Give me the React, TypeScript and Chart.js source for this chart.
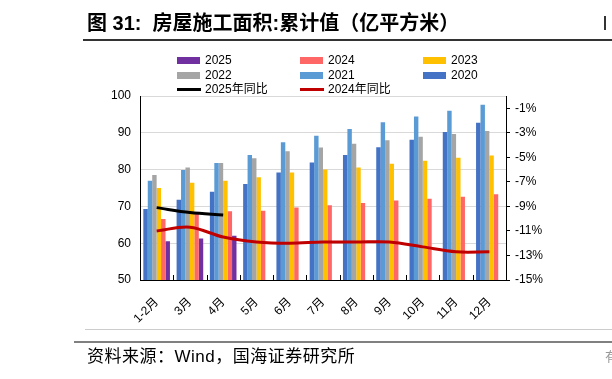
import React, { useEffect, useRef } from 'react';
import { Chart, registerables } from 'chart.js';

Chart.register(...registerables);

const categories = ['1-2月', '3月', '4月', '5月', '6月', '7月', '8月', '9月', '10月', '11月', '12月'];
const s2020 = [69.3, 71.8, 74.0, 76.1, 79.2, 81.9, 84.0, 86.1, 88.1, 90.2, 92.7];
const s2021 = [77.0, 79.9, 81.8, 84.0, 87.4, 89.2, 91.0, 92.9, 94.4, 96.0, 97.6];
const s2022 = [78.5, 80.6, 81.8, 83.1, 85.0, 86.0, 87.0, 88.0, 88.9, 89.7, 90.5];
const s2023 = [75.0, 76.4, 77.0, 77.9, 79.2, 80.0, 80.6, 81.6, 82.4, 83.2, 83.8];
const s2024 = [66.6, 68.1, 68.7, 68.8, 69.7, 70.3, 70.9, 71.6, 72.1, 72.6, 73.3];
const s2025 = [60.5, 61.3, 62.0, null, null, null, null, null, null, null, null];
const yoy2025 = [-9.1, -9.5, -9.7, null, null, null, null, null, null, null, null];
const yoy2024 = [-11.0, -10.7, -11.5, -11.9, -12.0, -11.9, -11.9, -11.9, -12.3, -12.7, -12.7];
const leftTicks = [50, 60, 70, 80, 90, 100];
const rightTicks = [-15, -13, -11, -9, -7, -5, -3, -1];
const legendOrder = ['2025', '2024', '2023', '2022', '2021', '2020', '2025年同比', '2024年同比'];

const FONT = '"Liberation Sans", Arial, "Noto Sans CJK SC", sans-serif';

const xTickPlugin = {
  id: 'xInnerTicks',
  afterDatasetsDraw(chart: any) {
    const xs = chart.scales.x;
    const bottom = chart.chartArea.bottom;
    const ctx = chart.ctx;
    ctx.save();
    ctx.strokeStyle = '#000';
    ctx.lineWidth = 1;
    for (let i = 1; i < categories.length; i++) {
      const x = Math.round((xs.getPixelForTick(i - 1) + xs.getPixelForTick(i)) / 2) + 0.5;
      ctx.beginPath();
      ctx.moveTo(x, bottom);
      ctx.lineTo(x, bottom - 5);
      ctx.stroke();
    }
    ctx.restore();
  },
};

const legendPlugin = {
  id: 'gridLegend',
  afterDraw(chart: any) {
    const ctx = chart.ctx;
    const cols = [177, 300, 423];
    const rows = [60.5, 75.5, 89.5];
    ctx.save();
    ctx.font = '12px ' + FONT;
    ctx.textBaseline = 'middle';
    ctx.textAlign = 'left';
    legendOrder.forEach((label, i) => {
      const ds = chart.data.datasets.find((d: any) => d.label === label);
      if (!ds) return;
      const x = cols[i % 3];
      const y = rows[Math.floor(i / 3)];
      if (ds.type === 'line') {
        ctx.strokeStyle = ds.borderColor;
        ctx.lineWidth = 3;
        ctx.beginPath();
        ctx.moveTo(x, y);
        ctx.lineTo(x + 24, y);
        ctx.stroke();
      } else {
        ctx.fillStyle = ds.backgroundColor;
        ctx.fillRect(x, y - 3.5, 23, 7);
      }
      ctx.fillStyle = '#000';
      ctx.fillText(label, x + 28, y + 0.5);
    });
    ctx.restore();
  },
};

function ChartView() {
  const ref = useRef<HTMLCanvasElement | null>(null);
  useEffect(() => {
    if (!ref.current) return;
    const bar = (label: string, data: (number | null)[], color: string) => ({
      type: 'bar' as const,
      label,
      data,
      backgroundColor: color,
      borderWidth: 0,
      yAxisID: 'y',
      order: 1,
      categoryPercentage: 0.8,
      barPercentage: 1.0,
    });
    const chart = new Chart(ref.current, {
      type: 'bar',
      data: {
        labels: categories,
        datasets: [
          bar('2020', s2020, '#4472C4'),
          bar('2021', s2021, '#5B9BD5'),
          bar('2022', s2022, '#A5A5A5'),
          bar('2023', s2023, '#FFC000'),
          bar('2024', s2024, '#FF6666'),
          bar('2025', s2025, '#7030A0'),
          {
            type: 'line',
            label: '2025年同比',
            data: yoy2025,
            borderColor: '#000000',
            backgroundColor: '#000000',
            borderWidth: 3,
            pointRadius: 0,
            tension: 0.35,
            yAxisID: 'y1',
            order: 0,
          },
          {
            type: 'line',
            label: '2024年同比',
            data: yoy2024,
            borderColor: '#C00000',
            backgroundColor: '#C00000',
            borderWidth: 3,
            pointRadius: 0,
            tension: 0.35,
            yAxisID: 'y1',
            order: 0,
          },
        ] as any,
      },
      options: {
        responsive: false,
        animation: false,
        devicePixelRatio: 1,
        layout: { padding: { left: 90, right: 46, top: 96, bottom: 49 } },
        plugins: { legend: { display: false }, tooltip: { enabled: false }, title: { display: false } },
        scales: {
          x: {
            position: 'bottom',
            afterFit: (s: any) => { s.height = 50; },
            grid: { display: false },
            border: { display: true, color: '#000', width: 1 },
            ticks: {
              minRotation: 45,
              maxRotation: 45,
              padding: 7,
              color: '#000',
              font: { size: 12, family: FONT },
            },
          },
          y: {
            position: 'left',
            min: leftTicks[0],
            max: leftTicks[leftTicks.length - 1],
            afterFit: (s: any) => { s.width = 50; },
            ticks: { stepSize: 10, padding: 9, color: '#000', font: { size: 12, family: FONT } },
            grid: { color: '#D9D9D9', lineWidth: 1, drawTicks: false },
            border: { display: true, color: '#000', width: 1 },
          },
          y1: {
            position: 'right',
            min: -15,
            max: 0,
            afterFit: (s: any) => { s.width = 60; },
            afterBuildTicks: (s: any) => { s.ticks = rightTicks.map((v) => ({ value: v })); },
            ticks: {
              padding: 5,
              color: '#000',
              font: { size: 12, family: FONT },
              callback: (v: any) => v + '%',
            },
            grid: { drawOnChartArea: false, drawTicks: true, tickLength: 4, color: '#000' },
            border: { display: true, color: '#000', width: 1 },
          },
        },
      } as any,
      plugins: [xTickPlugin, legendPlugin],
    });
    return () => chart.destroy();
  }, []);
  return <canvas ref={ref} width={612} height={379} style={{ position: 'absolute', left: 0, top: 0, width: 612, height: 379 }} />;
}

export default function App() {
  return (
    <div style={{ position: 'absolute', left: 0, top: 0, width: 612, height: 379, overflow: 'hidden', background: '#fff' }}>
      <ChartView />
      <div style={{ position: 'absolute', left: 87, top: 11, fontFamily: FONT, fontWeight: 'bold', fontSize: 20, color: '#000', whiteSpace: 'pre', lineHeight: '24px' }}>
        图 31:  房屋施工面积:累计值（亿平方米）
      </div>
      <div style={{ position: 'absolute', left: 83, top: 39, width: 529, height: 2, background: '#333' }} />
      <div style={{ position: 'absolute', left: 604, top: 16, width: 2, height: 14, background: '#333' }} />
      <div style={{ position: 'absolute', left: 85, top: 329, width: 527, height: 1, background: '#CCCCCC' }} />
      <div style={{ position: 'absolute', left: 74, top: 341, width: 538, height: 2, background: '#808080' }} />
      <div style={{ position: 'absolute', left: 87, top: 346, fontFamily: FONT, fontSize: 17, color: '#000', whiteSpace: 'pre', lineHeight: '22px', letterSpacing: '0.5px' }}>
        资料来源：Wind，国海证券研究所
      </div>
      <div style={{ position: 'absolute', left: 605, top: 348, fontFamily: FONT, fontSize: 13, color: '#999', lineHeight: '18px' }}>有</div>
    </div>
  );
}
